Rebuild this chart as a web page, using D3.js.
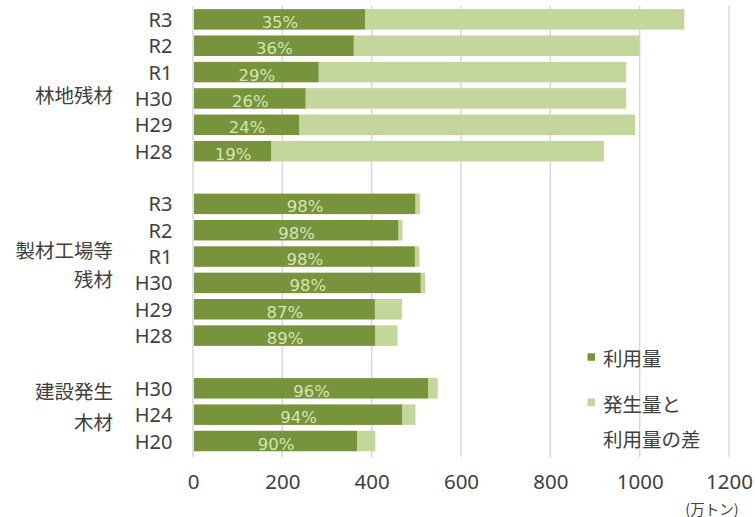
<!DOCTYPE html>
<html>
<head>
<meta charset="utf-8">
<script src="https://cdn.jsdelivr.net/npm/d3@7"></script>
<style>
  html, body { margin: 0; padding: 0; background: #ffffff; }
  svg { display: block; }
</style>
</head>
<body>
<svg id="chart" width="755" height="517"></svg>
<script>
// 木質バイオマスの発生量と利用量（万トン）
const forestYears = ["R3", "R2", "R1", "H30", "H29", "H28"];
const forestTotal = [1100, 1000, 970, 970, 990, 920];
const forestRate = [35, 36, 29, 26, 24, 19];

const millYears = ["R3", "R2", "R1", "H30", "H29", "H28"];
const millTotal = [508, 469, 507, 520, 468, 458];
const millRate = [98, 98, 98, 98, 87, 89];

const constYears = ["H30", "H24", "H20"];
const constTotal = [548, 498, 408];
const constRate = [96, 94, 90];

const xTicks = [0, 200, 400, 600, 800, 1000, 1200];
const unitLabel = "(万トン)";
const legendUsed = ["利用量"];
const legendGap = ["発生量と", "利用量の差"];

const groups = [
  { key: "forest", lines: ["林地残材"], years: forestYears, total: forestTotal, rate: forestRate },
  { key: "mill", lines: ["製材工場等", "残材"], years: millYears, total: millTotal, rate: millRate },
  { key: "const", lines: ["建設発生", "木材"], years: constYears, total: constTotal, rate: constRate }
];

const DARK = "#77933c";
const LIGHT = "#c3d69b";
const TEXT = "#404040";
const LATIN = "'Noto Sans', 'Noto Sans CJK JP', sans-serif";
const CJK = "'Noto Sans CJK JP', 'Noto Sans', sans-serif";

// one row per bar, with an empty slot between groups
const rows = [];
const slots = [];
groups.forEach((g, gi) => {
  if (gi > 0) slots.push("gap" + gi);
  g.years.forEach((yr, i) => {
    const id = g.key + "-" + yr;
    slots.push(id);
    const used = g.total[i] * g.rate[i] / 100;
    rows.push({ id, year: yr, total: g.total[i], used, rate: g.rate[i] });
  });
});

const svg = d3.select("#chart");

const x = d3.scaleLinear().domain([0, 1200]).range([193, 729]);
const y = d3.scaleBand().domain(slots).range([6.2, 454.2])
  .paddingInner(0.222).paddingOuter(0.111);
const mid = id => y(id) + y.bandwidth() / 2;

// vertical gridlines
svg.append("g")
  .selectAll("line")
  .data(xTicks)
  .join("line")
  .attr("x1", d => x(d)).attr("x2", d => x(d))
  .attr("y1", 6).attr("y2", 457)
  .attr("stroke", "#d6d6d6")
  .attr("stroke-width", 1.4);

// x axis labels
const xAxis = svg.append("g")
  .attr("transform", "translate(0,474)")
  .call(d3.axisBottom(x).tickValues(xTicks).tickFormat(d3.format("d")).tickSize(0).tickPadding(0));
xAxis.select(".domain").remove();
xAxis.selectAll("text")
  .attr("fill", TEXT)
  .attr("font-family", LATIN)
  .attr("font-size", "20.5px")
  .attr("dy", "0.71em")
  .attr("y", 0);

svg.append("text")
  .attr("x", 712).attr("y", 508)
  .attr("text-anchor", "middle")
  .attr("dominant-baseline", "central")
  .attr("fill", TEXT)
  .attr("font-family", CJK)
  .attr("font-size", "14.5px")
  .text(unitLabel);

// stacked bars: used amount, then the remainder up to the total
const bars = svg.append("g");
bars.selectAll("rect.gap")
  .data(rows)
  .join("rect")
  .attr("class", "gap")
  .attr("x", d => x(d.used))
  .attr("y", d => y(d.id))
  .attr("width", d => x(d.total) - x(d.used))
  .attr("height", y.bandwidth())
  .attr("fill", LIGHT);
bars.selectAll("rect.used")
  .data(rows)
  .join("rect")
  .attr("class", "used")
  .attr("x", x(0) + 1)
  .attr("y", d => y(d.id))
  .attr("width", d => x(d.used) - x(0) - 1)
  .attr("height", y.bandwidth())
  .attr("fill", DARK);

// utilisation rate labels
svg.append("g")
  .selectAll("text")
  .data(rows)
  .join("text")
  .attr("x", d => (x(0) + x(d.used)) / 2 + 1)
  .attr("y", d => mid(d.id) + 3)
  .attr("text-anchor", "middle")
  .attr("dominant-baseline", "central")
  .attr("fill", "#d3e6b3")
  .attr("font-family", "'DejaVu Sans', sans-serif")
  .attr("font-size", "16.5px")
  .text(d => d.rate + "%");

// year labels
svg.append("g")
  .selectAll("text")
  .data(rows)
  .join("text")
  .attr("x", 172.5)
  .attr("y", d => mid(d.id))
  .attr("text-anchor", "end")
  .attr("dominant-baseline", "central")
  .attr("fill", TEXT)
  .attr("font-family", LATIN)
  .attr("font-size", "20px")
  .text(d => d.year);

// group labels, each line placed next to a row of its group
const groupLabelPos = {
  forest: [["forest-H30", -3.6]],
  mill: [["mill-R1", -7.5], ["mill-H30", -4.5]],
  const: [["const-H30", 1.7], ["const-H24", 7]]
};
groups.forEach(g => {
  g.lines.forEach((line, i) => {
    const [anchor, off] = groupLabelPos[g.key][i];
    svg.append("text")
      .attr("x", 113)
      .attr("y", mid(anchor) + off)
      .attr("text-anchor", "end")
      .attr("dominant-baseline", "central")
      .attr("fill", TEXT)
      .attr("font-family", CJK)
      .attr("font-size", "19.5px")
      .text(line);
  });
});

// legend
const legend = svg.append("g");
legend.append("rect").attr("x", 587.5).attr("y", 353.3).attr("width", 7.5).attr("height", 7.5).attr("fill", DARK);
legend.append("rect").attr("x", 587.5).attr("y", 398.5).attr("width", 7.5).attr("height", 7.5).attr("fill", LIGHT);
legend.append("text")
  .attr("x", 603).attr("y", 357)
  .attr("dominant-baseline", "central")
  .attr("fill", TEXT).attr("font-family", CJK).attr("font-size", "19.5px")
  .text(legendUsed[0]);
legendGap.forEach((line, i) => {
  legend.append("text")
    .attr("x", 603).attr("y", 403.5 + i * 34.5)
    .attr("dominant-baseline", "central")
    .attr("fill", TEXT).attr("font-family", CJK).attr("font-size", "19.5px")
    .text(line);
});
</script>
</body>
</html>
